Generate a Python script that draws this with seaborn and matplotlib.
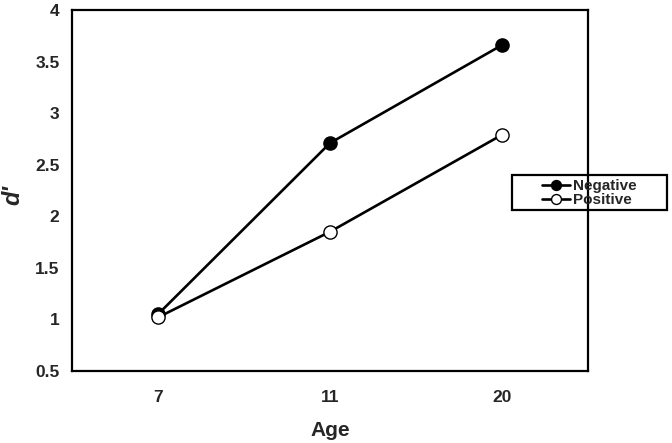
import matplotlib
matplotlib.use('Agg')
import matplotlib.pyplot as plt
import seaborn as sns
import pandas as pd
from matplotlib.patches import Rectangle

# values
ages = ['7', '11', '20']
negative = [1.05, 2.71, 3.66]
positive = [1.02, 1.85, 2.79]
series_names = ['Negative', 'Positive']
y_ticks = [0.5, 1, 1.5, 2, 2.5, 3, 3.5, 4]
y_tick_labels = ['0.5', '1', '1.5', '2', '2.5', '3', '3.5', '4']

sns.set_style('white')
plt.rcParams['font.family'] = ['Liberation Sans', 'DejaVu Sans']
plt.rcParams['font.weight'] = 'bold'

df = pd.DataFrame({
  'age': ages * 2,
  'dprime': negative + positive,
  'series': [series_names[0]] * 3 + [series_names[1]] * 3,
})

fig = plt.figure(figsize=(6.72, 4.43), dpi=100)
ax = fig.add_axes([72/672, 1-371/443, (588-72)/672, (371-10)/443])

faces = {'Negative': 'black', 'Positive': 'white'}
for name in series_names:
  sub = df[df['series'] == name]
  sns.lineplot(data=sub, x='age', y='dprime', ax=ax, color='black',
               linewidth=1.9, marker='o', markersize=9.5,
               markerfacecolor=faces[name], markeredgecolor='black',
               markeredgewidth=1.0, label=name, legend=False)

ax.set_xlim(-0.5, 2.5)
ax.set_ylim(0.5, 4)
ax.set_yticks(y_ticks)
ax.set_yticklabels(y_tick_labels)
ax.set_xticks(range(len(ages)))
ax.set_xticklabels(ages)
ax.set_xticks([-0.5, 0.5, 1.5, 2.5], minor=True)
ax.tick_params(axis='x', which='major', length=0, pad=14, labelsize=12.5)
ax.tick_params(axis='x', which='minor', length=3, color='#bbbbbb', width=0.6, direction='out')
ax.tick_params(axis='y', length=3, color='#bbbbbb', width=0.6, direction='out', pad=6, labelsize=12.5)
for lab in ax.get_xticklabels() + ax.get_yticklabels():
  lab.set_fontweight('bold')

for sp in ax.spines.values():
  sp.set_linewidth(1.6)
  sp.set_color('black')

ax.set_xlabel('Age', fontsize=15, fontweight='bold', labelpad=11)
ax.set_ylabel("d'", fontsize=17, fontweight='bold', style='italic')
ax.yaxis.set_label_coords(-0.093, 0.4875)

leg = fig.legend(loc='center', bbox_to_anchor=(589.5/672, 1-193/443),
                 frameon=False, fontsize=11, handlelength=1.8,
                 handletextpad=0.25, labelspacing=0.0, borderpad=0.0,
                 markerscale=0.75)
for t in leg.get_texts():
  t.set_fontweight('bold')

fig.patches.append(Rectangle((512/672, 1-210/443), 155/672, 35/443,
                             transform=fig.transFigure, fill=False,
                             edgecolor='black', linewidth=1.6))

fig.savefig('out.png', dpi=100)
